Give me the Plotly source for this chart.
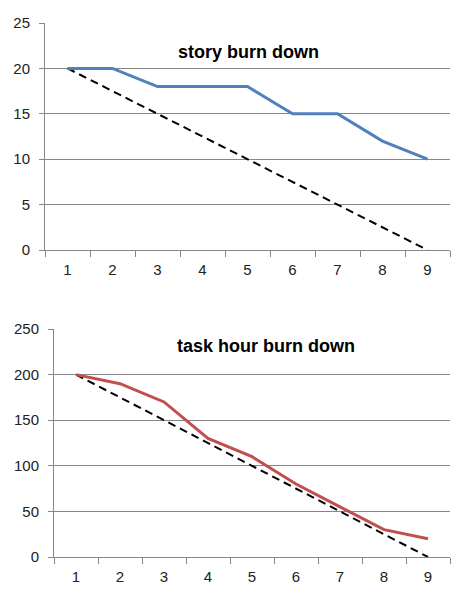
import plotly.graph_objects as go
from plotly.subplots import make_subplots

days = ["1", "2", "3", "4", "5", "6", "7", "8", "9"]
story_actual = [20, 20, 18, 18, 18, 15, 15, 12, 10]
story_ideal = [20, 17.5, 15, 12.5, 10, 7.5, 5, 2.5, 0]
task_actual = [200, 190, 170, 130, 110, 80, 55, 30, 20]
task_ideal = [200, 175, 150, 125, 100, 75, 50, 25, 0]

grid = "#868686"
font = "Liberation Sans"
dash = "8px,5px"

fig = make_subplots(rows=2, cols=1)

fig.add_trace(go.Scatter(x=days, y=story_ideal, mode="lines",
                         line=dict(color="black", width=2, dash=dash)), row=1, col=1)
fig.add_trace(go.Scatter(x=days, y=story_actual, mode="lines",
                         line=dict(color="#4F81BD", width=3)), row=1, col=1)
fig.add_trace(go.Scatter(x=days, y=task_ideal, mode="lines",
                         line=dict(color="black", width=2, dash=dash)), row=2, col=1)
fig.add_trace(go.Scatter(x=days, y=task_actual, mode="lines",
                         line=dict(color="#C0504D", width=3)), row=2, col=1)

xcommon = dict(type="category", range=[-0.5, 8.5], showgrid=False,
               showline=True, linecolor=grid, linewidth=1, automargin=False,
               ticks="outside", tickson="boundaries", ticklen=6, tickcolor=grid,
               ticklabelstandoff=6,
               tickfont=dict(family=font, size=15, color="#222"))
ycommon = dict(showgrid=True, gridcolor=grid, gridwidth=1, zeroline=False,
               showline=True, linecolor=grid, linewidth=1, automargin=False,
               ticks="outside", ticklen=5, tickcolor=grid,
               ticklabelstandoff=6,
               tickfont=dict(family=font, size=15, color="#222"))

fig.update_layout(
    width=473, height=602,
    margin=dict(l=0, r=0, t=0, b=0),
    showlegend=False,
    plot_bgcolor="white", paper_bgcolor="white",
    xaxis=dict(xcommon, domain=[45/473, 450/473]),
    yaxis=dict(ycommon, domain=[1 - 250/602, 1 - 23/602], range=[0, 25], dtick=5),
    xaxis2=dict(xcommon, domain=[54/473, 450/473]),
    yaxis2=dict(ycommon, domain=[1 - 557/602, 1 - 329/602], range=[0, 250], dtick=50),
    annotations=[
        dict(text="<b>story burn down</b>", xref="paper", yref="paper",
             x=249/473, y=1 - 40/602, showarrow=False,
             font=dict(family=font, size=18, color="black")),
        dict(text="<b>task hour burn down</b>", xref="paper", yref="paper",
             x=266/473, y=1 - 346/602, showarrow=False,
             font=dict(family=font, size=18, color="black")),
    ],
)

pin = ("document.body.style.margin='0';document.body.style.overflow='hidden';"
       "var g=document.getElementById('{plot_id}');"
       "g.style.position='fixed';g.style.top='0';g.style.left='0';")
fig.write_html("out.html", config={"displayModeBar": False}, post_script=pin)
